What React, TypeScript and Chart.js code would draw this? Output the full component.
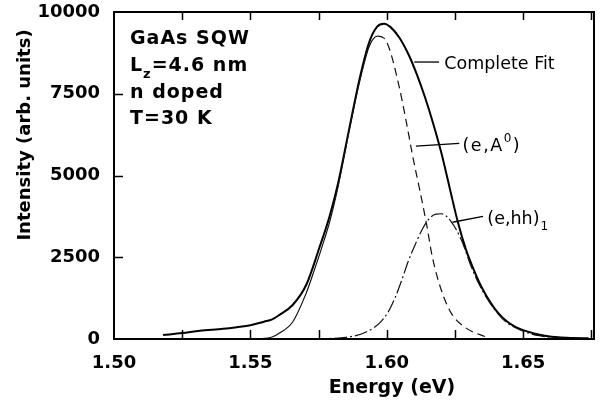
import React, { useEffect, useRef } from "react";
import { Chart, registerables } from "chart.js";

Chart.register(...registerables);

// ---- Data ----
const ENERGY_FIT = [1.518, 1.525, 1.5315, 1.54, 1.545, 1.55, 1.555, 1.558, 1.5607, 1.5655, 1.5705, 1.5753, 1.579, 1.582, 1.5863, 1.59, 1.5936, 1.5965, 1.599, 1.6015, 1.6046, 1.608, 1.611, 1.614, 1.617, 1.62, 1.623, 1.626, 1.629, 1.632, 1.635, 1.638, 1.641, 1.644, 1.647, 1.65, 1.654, 1.658, 1.663, 1.668, 1.674];
const INTENSITY_FIT = [120, 180, 250, 310, 360, 420, 530, 600, 740, 1040, 1660, 2790, 3740, 4700, 6450, 7940, 9080, 9550, 9640, 9530, 9220, 8700, 8100, 7400, 6600, 5700, 4650, 3600, 2750, 2100, 1550, 1120, 780, 540, 380, 270, 170, 100, 50, 30, 20];

const ENERGY_A0 = [1.5523, 1.558, 1.5607, 1.5655, 1.5705, 1.5735, 1.5765, 1.579, 1.582, 1.5863, 1.59, 1.5936, 1.5966, 1.599, 1.601, 1.6046, 1.6072, 1.6095, 1.612, 1.6145, 1.6167, 1.62, 1.6236, 1.629, 1.6364];
const INTENSITY_A0 = [0, 60, 180, 520, 1410, 2120, 2880, 3560, 4600, 6400, 7850, 8950, 9260, 9200, 8870, 7700, 6630, 5600, 4600, 3560, 2520, 1500, 800, 340, 60];
const A0_PEAK_ENERGY = 1.5966;

const ENERGY_HH = [1.573, 1.58, 1.585, 1.589, 1.592, 1.595, 1.598, 1.6005, 1.603, 1.6055, 1.608, 1.6105, 1.613, 1.6156, 1.618, 1.62, 1.6236, 1.6273, 1.631, 1.634, 1.6375, 1.641, 1.6437, 1.65, 1.656, 1.665, 1.674];
const INTENSITY_HH = [0, 20, 50, 110, 200, 330, 540, 820, 1250, 1800, 2400, 2900, 3350, 3680, 3820, 3830, 3590, 3040, 2210, 1650, 1150, 750, 520, 240, 100, 30, 10];

const X_MIN = 1.5;
const X_MAX = 1.676;
const X_TICK_STEP = 0.025;
const X_MINOR_TICKS = [1.525, 1.55, 1.575, 1.6, 1.625, 1.65, 1.675];
const X_LABELS = ["1.50", "1.55", "1.60", "1.65"];
const Y_MIN = 0;
const Y_MAX = 10000;
const Y_STEP = 2500;
const Y_TICKS = [2500, 5000, 7500];

const X_TITLE = "Energy (eV)";
const Y_TITLE = "Intensity (arb. units)";

// annotation anchors in data units: [leaderStartE, leaderStartI, leaderEndE, leaderEndI, textE, textI]
const ANNOT_FIT = [1.6101, 8470, 1.6192, 8470, 1.6211, 8400];
const ANNOT_A0 = [1.6107, 5900, 1.6266, 5980, 1.6278, 5900];
const ANNOT_HH = [1.6241, 3570, 1.6353, 3750, 1.6369, 3650];

const BOLD = (s: number) => `bold ${s}px "DejaVu Sans"`;
const REG = (s: number) => `${s}px "DejaVu Sans"`;

function pts(xs: number[], ys: number[]) {
  return xs.map((x, i) => ({ x, y: ys[i] }));
}

const zeroPad = (s: any) => {
  s.paddingTop = 0;
  s.paddingBottom = 0;
  s.paddingLeft = 0;
  s.paddingRight = 0;
};

const decorPlugin = {
  id: "decor",
  afterDraw(chart: any) {
    const { ctx, chartArea: a, scales } = chart;
    const xs = scales.x;
    const ys = scales.y;
    ctx.save();
    ctx.strokeStyle = "#000";
    ctx.fillStyle = "#000";
    // frame
    ctx.lineWidth = 2;
    ctx.strokeRect(a.left, a.top, a.right - a.left, a.bottom - a.top);
    // inward ticks
    ctx.lineWidth = 1.5;
    ctx.beginPath();
    for (const v of X_MINOR_TICKS) {
      const px = Math.round(xs.getPixelForValue(v)) + 0.5;
      ctx.moveTo(px, a.bottom);
      ctx.lineTo(px, a.bottom - 9);
      ctx.moveTo(px, a.top);
      ctx.lineTo(px, a.top + 8);
    }
    for (const v of Y_TICKS) {
      const py = Math.round(ys.getPixelForValue(v)) + 0.5;
      ctx.moveTo(a.left, py);
      ctx.lineTo(a.left + 9, py);
    }
    ctx.stroke();

    // axis titles
    ctx.font = BOLD(19);
    ctx.textAlign = "center";
    ctx.textBaseline = "middle";
    ctx.fillText(X_TITLE, 392, 388);
    ctx.save();
    ctx.translate(25, 135);
    ctx.rotate(-Math.PI / 2);
    ctx.font = BOLD(18);
    ctx.fillText(Y_TITLE, 0, 0);
    ctx.restore();

    // sample description block
    ctx.textAlign = "left";
    ctx.textBaseline = "alphabetic";
    (ctx as any).letterSpacing = "1px";
    const x0 = a.left + 16;
    ctx.font = BOLD(19);
    ctx.fillText("GaAs SQW", x0, a.top + 32);
    ctx.fillText("L", x0, a.top + 59);
    let w = ctx.measureText("L").width;
    ctx.font = BOLD(13);
    ctx.fillText("z", x0 + w, a.top + 66);
    w += ctx.measureText("z").width;
    ctx.font = BOLD(19);
    ctx.fillText("=4.6 nm", x0 + w, a.top + 59);
    ctx.fillText("n doped", x0, a.top + 86);
    ctx.fillText("T=30 K", x0, a.top + 112);
    (ctx as any).letterSpacing = "0px";

    // curve labels with leader lines
    const leader = (an: number[]) => {
      ctx.lineWidth = 1.3;
      ctx.beginPath();
      ctx.moveTo(xs.getPixelForValue(an[0]), ys.getPixelForValue(an[1]));
      ctx.lineTo(xs.getPixelForValue(an[2]), ys.getPixelForValue(an[3]));
      ctx.stroke();
      return [xs.getPixelForValue(an[4]), ys.getPixelForValue(an[5])];
    };
    ctx.textBaseline = "middle";
    let [tx, ty] = leader(ANNOT_FIT);
    ctx.font = REG(17.5);
    ctx.fillText("Complete Fit", tx, ty);

    [tx, ty] = leader(ANNOT_A0);
    (ctx as any).letterSpacing = "1.5px";
    ctx.font = REG(17.5);
    ctx.fillText("(e,A", tx, ty);
    let ww = ctx.measureText("(e,A").width;
    ctx.font = REG(12);
    ctx.fillText("0", tx + ww, ty - 7);
    ww += ctx.measureText("0").width;
    ctx.font = REG(17.5);
    ctx.fillText(")", tx + ww, ty);
    (ctx as any).letterSpacing = "0px";

    [tx, ty] = leader(ANNOT_HH);
    ctx.font = REG(17.5);
    ctx.fillText("(e,hh)", tx, ty);
    ww = ctx.measureText("(e,hh)").width;
    ctx.font = REG(12);
    ctx.fillText("1", tx + ww + 1, ty + 7);

    ctx.restore();
  },
};

export default function App() {
  const ref = useRef<HTMLCanvasElement | null>(null);
  useEffect(() => {
    document.body.style.margin = "0";
    const canvas = ref.current;
    if (!canvas) return;
    const chart = new Chart(canvas, {
      type: "line",
      data: {
        datasets: [
          {
            label: "(e,hh)1",
            data: pts(ENERGY_HH, INTENSITY_HH),
            borderColor: "#111",
            borderWidth: 1.2,
            borderDash: [13, 3, 2, 3],
            pointRadius: 0,
            cubicInterpolationMode: "monotone",
            fill: false,
          },
          {
            label: "(e,A0)",
            data: pts(ENERGY_A0, INTENSITY_A0),
            borderColor: "#111",
            borderWidth: 1.2,
            pointRadius: 0,
            cubicInterpolationMode: "monotone",
            fill: false,
            segment: {
              borderDash: (c: any) => (c.p0.parsed.x >= A0_PEAK_ENERGY ? [8, 5] : undefined),
            },
          },
          {
            label: "Complete Fit",
            data: pts(ENERGY_FIT, INTENSITY_FIT),
            borderColor: "#000",
            borderWidth: 2,
            pointRadius: 0,
            cubicInterpolationMode: "monotone",
            fill: false,
          },
        ],
      },
      options: {
        responsive: false,
        animation: false,
        devicePixelRatio: 1,
        layout: { padding: { top: 12, right: 8, left: 0, bottom: 0 } },
        plugins: { legend: { display: false }, tooltip: { enabled: false } },
        scales: {
          x: {
            type: "linear",
            min: X_MIN,
            max: X_MAX,
            grid: { display: false, drawTicks: false },
            border: { display: false },
            ticks: {
              stepSize: X_TICK_STEP,
              includeBounds: false,
              autoSkip: false,
              maxRotation: 0,
              padding: 14,
              color: "#000",
              font: { family: "DejaVu Sans", size: 18, weight: "bold" },
              callback: (v: any) => {
                const s = Number(v).toFixed(2);
                return X_LABELS.includes(s) && Math.abs(Number(v) - Number(s)) < 1e-6 ? s : "";
              },
            },
            afterFit: (s: any) => {
              s.height = 65;
              zeroPad(s);
            },
          },
          y: {
            min: Y_MIN,
            max: Y_MAX,
            grid: { display: false, drawTicks: false },
            border: { display: false },
            ticks: {
              stepSize: Y_STEP,
              padding: 14,
              color: "#000",
              font: { family: "DejaVu Sans", size: 18, weight: "bold" },
              callback: (v: any) => String(Math.round(Number(v))),
            },
            afterFit: (s: any) => {
              s.width = 114;
              zeroPad(s);
            },
          },
        },
      },
      plugins: [decorPlugin],
    } as any);
    return () => chart.destroy();
  }, []);
  return (
    <div style={{ width: 602, height: 404, background: "#fff" }}>
      <canvas ref={ref} width={602} height={404} />
    </div>
  );
}
